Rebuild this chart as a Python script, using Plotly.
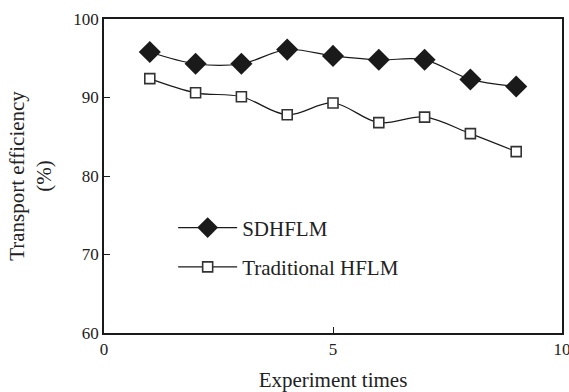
import plotly.graph_objects as go

experiment = [1, 2, 3, 4, 5, 6, 7, 8, 9]
sdhflm = [95.8, 94.3, 94.3, 96.1, 95.3, 94.8, 94.8, 92.3, 91.4]
traditional = [92.4, 90.6, 90.1, 87.8, 89.3, 86.8, 87.5, 85.4, 83.1]

x_ticks = [0, 5, 10]
y_ticks = [60, 70, 80, 90, 100]

FONT = "Liberation Serif, Times New Roman, serif"

fig = go.Figure()
fig.add_trace(go.Scatter(
    x=experiment, y=sdhflm, name="SDHFLM", mode="lines+markers", legendgroup="a",
    line=dict(color="#1a1a1a", width=1.2, shape="spline", smoothing=1),
    marker=dict(symbol="diamond", size=17, color="#1a1a1a",
                line=dict(color="#1a1a1a", width=0)),
))
fig.add_trace(go.Scatter(
    x=experiment, y=traditional, name="Traditional HFLM", mode="lines+markers", legendgroup="b",
    line=dict(color="#1a1a1a", width=1.2, shape="spline", smoothing=1),
    marker=dict(symbol="square", size=10, color="white",
                line=dict(color="#333333", width=1.6)),
))

axis_common = dict(
    showgrid=False, zeroline=False, showline=True, linecolor="#1a1a1a",
    linewidth=1.5, mirror=True, ticks="inside", ticklen=6, tickwidth=1.2,
    tickcolor="#1a1a1a", tickfont=dict(family=FONT, size=17, color="#222"),
    automargin=False, ticklabeloverflow="allow",
)

fig.update_layout(
    width=569, height=392,
    margin=dict(l=104, r=7, t=19, b=59),
    paper_bgcolor="white", plot_bgcolor="white",
    font=dict(family=FONT, color="#222"),
    xaxis=dict(range=[0, 10], tickvals=x_ticks,
               title=dict(text="Experiment times", font=dict(family=FONT, size=21), standoff=15),
               **axis_common),
    yaxis=dict(range=[60, 100], tickvals=y_ticks,
               title=dict(text="Transport efficiency<br>(%)", font=dict(family=FONT, size=21), standoff=16),
               **axis_common),
    legend=dict(x=0.151, y=0.40, xanchor="left", yanchor="top",
                bgcolor="rgba(0,0,0,0)", font=dict(family=FONT, size=21, color="#222"),
                tracegroupgap=9, itemwidth=59),
    showlegend=True,
)

fig.write_html("out.html")
